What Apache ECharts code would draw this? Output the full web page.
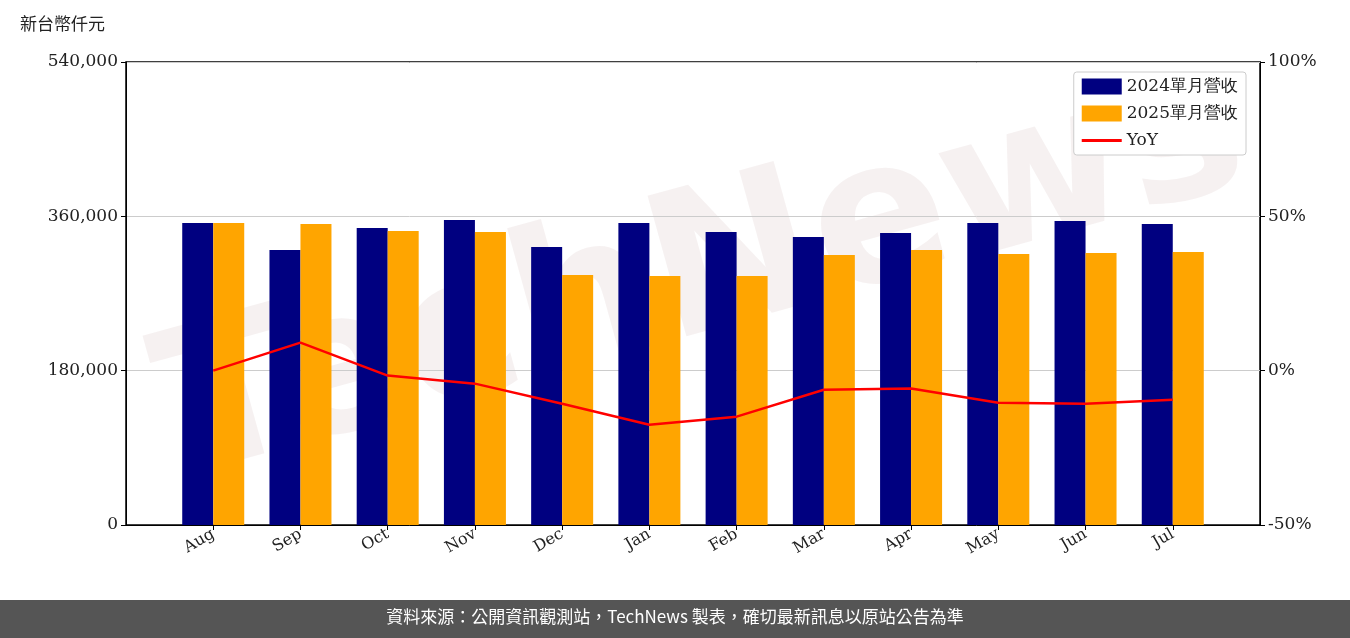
<!DOCTYPE html>
<html><head><meta charset="utf-8">
<script src="https://cdn.jsdelivr.net/npm/echarts@6/dist/echarts.min.js"></script>
<style>body{margin:0}#c{width:1350px;height:638px}</style></head>
<body><div id="c"></div>
<script>
const months=['Aug','Sep','Oct','Nov','Dec','Jan','Feb','Mar','Apr','May','Jun','Jul'];
const rev2024=[352200,320700,346400,355700,324200,352200,341700,335900,340600,352200,354500,351000];
const rev2025=[352200,351000,342900,341700,291600,290400,290400,314900,320700,316100,317200,318400];
const yoy=[0,9.1,-1.6,-4.2,-10.7,-17.5,-14.9,-6.2,-5.8,-10.4,-10.7,-9.4];
const idx=months.map((m,i)=>i);
const f="DejaVu Serif";
const ch=echarts.init(document.getElementById('c'));
ch.setOption({
 animation:false,
 grid:{left:126,right:90,top:62,bottom:113,show:true,borderColor:'#000',borderWidth:1.5},
 graphic:[
  {type:'text',left:20,top:15,style:{text:'新台幣仟元',font:'17px "Noto Sans CJK TC"',fill:'#222'}},
  {type:'text',x:140,y:330,rotation:0.27,style:{text:'TechNews',font:'bold 200px "DejaVu Sans"',fill:'rgba(215,190,190,0.22)',verticalAlign:'top'},z:-1},
  {type:'rect',left:0,top:600,shape:{width:1350,height:38},style:{fill:'#555'}},
  {type:'text',left:'center',top:608,style:{text:'資料來源：公開資訊觀測站，TechNews 製表，確切最新訊息以原站公告為準',font:'17px "Noto Sans CJK TC"',fill:'#fff'}}
 ],
 legend:{right:104,top:72,orient:'vertical',itemWidth:40,itemHeight:16,itemGap:10,
  backgroundColor:'#fff',borderColor:'#ccc',borderWidth:1,borderRadius:3,padding:[6,8],
  textStyle:{fontFamily:f,fontSize:17,color:'#222'},
  data:[{name:'2024單月營收',icon:'rect'},{name:'2025單月營收',icon:'rect'},
        {name:'YoY',icon:'path://M0,0 L40,0 L40,3 L0,3 Z',itemStyle:{color:'#FF0000'}}]},
 xAxis:{type:'value',min:-1,max:12,interval:1,
  axisLine:{lineStyle:{color:'#000'}},splitLine:{show:false},
  axisTick:{customValues:idx,lineStyle:{color:'#000'}},
  axisLabel:{customValues:idx,formatter:v=>months[v],rotate:30,fontFamily:f,fontSize:16,color:'#222'}},
 yAxis:[
  {type:'value',min:0,max:540000,interval:180000,
   axisLine:{show:true,onZero:false,lineStyle:{color:'#000'}},axisTick:{show:true},
   splitLine:{lineStyle:{color:'#ccc'}},
   axisLabel:{fontFamily:f,fontSize:17,color:'#222',formatter:v=>v.toLocaleString('en-US')}},
  {type:'value',min:-50,max:100,interval:50,
   axisLine:{show:true,onZero:false,lineStyle:{color:'#000'}},axisTick:{show:true},splitLine:{show:false},
   axisLabel:{fontFamily:f,fontSize:17,color:'#222',formatter:'{value}%'}}
 ],
 series:[
  {name:'2024單月營收',type:'bar',barWidth:31,barGap:'0%',itemStyle:{color:'#000080'},data:rev2024.map((v,i)=>[i,v])},
  {name:'2025單月營收',type:'bar',barWidth:31,barGap:'0%',itemStyle:{color:'#FFA500'},data:rev2025.map((v,i)=>[i,v])},
  {name:'YoY',type:'line',yAxisIndex:1,symbol:'none',lineStyle:{color:'#FF0000',width:2.5},itemStyle:{color:'#FF0000'},data:yoy.map((v,i)=>[i,v])}
 ]
});
</script></body></html>
